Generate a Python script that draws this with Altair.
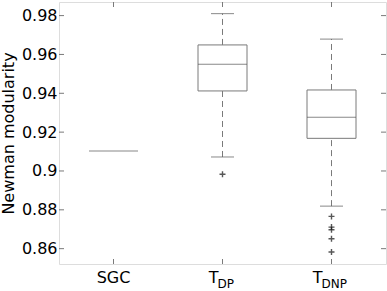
import altair as alt
import pandas as pd

cats = ["SGC", "TDP", "TDNP"]
w_lo = [0.9103, 0.9072, 0.8819]
q1 = [0.9103, 0.9412, 0.9168]
med = [0.9103, 0.9550, 0.9277]
q3 = [0.9103, 0.9649, 0.9417]
w_hi = [0.9103, 0.9810, 0.9679]

out_cat = ["TDP", "TDNP", "TDNP", "TDNP", "TDNP", "TDNP"]
out_val = [0.8983, 0.8766, 0.8711, 0.8697, 0.8651, 0.8583]

yticks = [0.86, 0.88, 0.90, 0.92, 0.94, 0.96, 0.98]

W, H = 327, 262
GREY = "#7a7a7a"
FONT = "DejaVu Sans"

stats = pd.DataFrame({"cat": cats, "lo": w_lo, "q1": q1, "med": med, "q3": q3, "hi": w_hi})
box_df = stats[stats["cat"] != "SGC"]
outs = pd.DataFrame({"cat": out_cat, "val": out_val})
ticks = pd.DataFrame({"v": yticks})
catdf = pd.DataFrame({"cat": cats})

xsc = alt.Scale(domain=cats, paddingInner=0, paddingOuter=0)
ysc = alt.Scale(domain=[0.8521, 0.987], nice=False, zero=False)

X = alt.X("cat:N", scale=xsc, axis=None)

yaxis = alt.Axis(values=yticks, format="~g", tickSize=0, labelPadding=2, domain=False,
                 grid=False, labelFont=FONT, labelFontSize=16, labelColor="black",
                 title="Newman modularity", titleFont=FONT, titleFontSize=16,
                 titleFontWeight="normal", titleColor="black", titlePadding=5)

base = alt.Chart(stats)

whisk_up = alt.Chart(box_df).mark_rule(color=GREY, strokeDash=[6, 4], strokeWidth=1).encode(
    x=X, y=alt.Y("q3:Q", scale=ysc, axis=yaxis), y2="hi:Q")
whisk_dn = alt.Chart(box_df).mark_rule(color=GREY, strokeDash=[6, 4], strokeWidth=1).encode(
    x=X, y=alt.Y("lo:Q", scale=ysc), y2="q1:Q")
boxes = alt.Chart(box_df).mark_bar(size=49, fill="white", stroke=GREY, strokeWidth=1).encode(
    x=X, y=alt.Y("q1:Q", scale=ysc), y2="q3:Q")
medians = base.mark_tick(size=49, thickness=1, color="#555555").encode(
    x=X, y=alt.Y("med:Q", scale=ysc))
cap_hi = alt.Chart(box_df).mark_tick(size=23, thickness=1, color="#555555").encode(
    x=X, y=alt.Y("hi:Q", scale=ysc))
cap_lo = alt.Chart(box_df).mark_tick(size=23, thickness=1, color="#555555").encode(
    x=X, y=alt.Y("lo:Q", scale=ysc))
outliers = alt.Chart(outs).mark_point(shape="M-1,0L1,0M0,-1L0,1", size=36, filled=False,
                                      stroke="#111111", strokeWidth=1.4).encode(
    x=X, y=alt.Y("val:Q", scale=ysc))

lt = alt.Chart(ticks).mark_rule(color=GREY).encode(y=alt.Y("v:Q", scale=ysc), x=alt.value(0), x2=alt.value(5))
rt = alt.Chart(ticks).mark_rule(color=GREY).encode(y=alt.Y("v:Q", scale=ysc), x=alt.value(W - 5), x2=alt.value(W))
tt = alt.Chart(catdf).mark_rule(color=GREY).encode(x=X, y=alt.value(0), y2=alt.value(5))
bt = alt.Chart(catdf).mark_rule(color=GREY).encode(x=X, y=alt.value(H - 5), y2=alt.value(H))

lab_main = ["SGC", "T", "T"]
lab_sub = ["", "DP", "DNP"]
lab_dx = [0, -4, -9]
sub_dx = [0, -5, -10]

labels = []
for c, m, s, d, sd in zip(cats, lab_main, lab_sub, lab_dx, sub_dx):
    df = pd.DataFrame({"cat": [c], "m": [m], "s": [s]})
    if s == "":
        labels.append(alt.Chart(df).mark_text(font=FONT, fontSize=16, align="center", baseline="alphabetic").encode(
            x=X, y=alt.value(281), text="m:N"))
    else:
        labels.append(alt.Chart(df).mark_text(font=FONT, fontSize=16, align="right", baseline="alphabetic", dx=d).encode(
            x=X, y=alt.value(281), text="m:N"))
        labels.append(alt.Chart(df).mark_text(font=FONT, fontSize=12, align="left", baseline="alphabetic", dx=sd).encode(
            x=X, y=alt.value(286), text="s:N"))

chart = alt.layer(whisk_up, whisk_dn, boxes, medians, cap_hi, cap_lo, outliers, lt, rt, tt, bt, *labels).properties(
    width=W, height=H,
    autosize=alt.AutoSizeParams(type="none"),
    padding={"left": 59, "top": 2, "right": 1, "bottom": 27},
).configure_view(stroke=GREY, strokeWidth=1.2).configure(background="white")

chart.save("out.html", embed_options={"renderer": "svg", "actions": False})
